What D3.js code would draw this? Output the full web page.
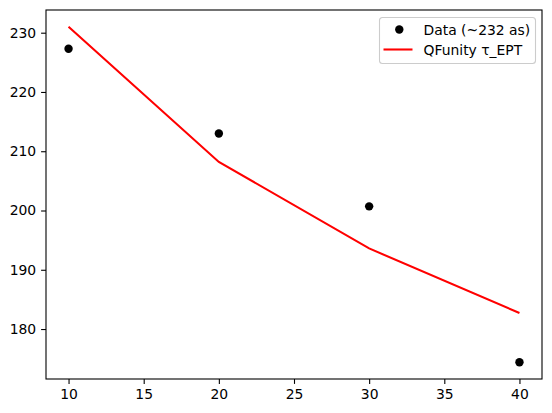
<!DOCTYPE html>
<html>
<head>
<meta charset="utf-8">
<script src="https://cdn.jsdelivr.net/npm/d3@7"></script>
<style>
  body { margin: 0; background: #fff; }
  text { font-family: "DejaVu Sans", sans-serif; }
</style>
</head>
<body>
<div id="chart"></div>
<script>
// values
const xVals = [10, 20, 30, 40];
const dataVals = [227.3, 213.0, 200.7, 174.4];
const modelVals = [231.0, 208.2, 193.6, 182.7];
const xTicks = [10, 15, 20, 25, 30, 35, 40];
const yTicks = [180, 190, 200, 210, 220, 230];
const legendLabels = ['Data (~232 as)', 'QFunity \u03c4_EPT'];

const W = 552, H = 413;
const margin = { top: 10, right: 10, bottom: 34, left: 46 };
const width = W - margin.left - margin.right;
const height = H - margin.top - margin.bottom;

const svg = d3.select('#chart').append('svg')
    .attr('width', W)
    .attr('height', H);

const g = svg.append('g')
    .attr('transform', `translate(${margin.left},${margin.top})`);

// matplotlib-ish 5% padding
const xExt = d3.extent(xVals);
const xPad = (xExt[1] - xExt[0]) * 0.05;
const x = d3.scaleLinear()
    .domain([xExt[0] - xPad, xExt[1] + xPad])
    .range([0, width]);

const yExt = d3.extent(dataVals.concat(modelVals));
const yPad = (yExt[1] - yExt[0]) * 0.05;
const y = d3.scaleLinear()
    .domain([yExt[0] - yPad, yExt[1] + yPad])
    .range([height, 0]);

const fontSize = '13.9px';

// axes
const xAxis = g.append('g')
    .attr('transform', `translate(0,${height})`)
    .call(d3.axisBottom(x).tickValues(xTicks).tickSize(4.9).tickPadding(4.9).tickFormat(d3.format('d')));
const yAxis = g.append('g')
    .call(d3.axisLeft(y).tickValues(yTicks).tickSize(4.9).tickPadding(4.9).tickFormat(d3.format('d')));

[xAxis, yAxis].forEach(a => {
    a.select('.domain').remove();
    a.selectAll('.tick line').attr('stroke', '#000').attr('stroke-width', 1.1);
    a.selectAll('.tick text')
        .attr('fill', '#000')
        .style('font-size', fontSize)
        .style('font-family', '"DejaVu Sans", sans-serif');
});

// frame
g.append('rect')
    .attr('width', width)
    .attr('height', height)
    .attr('fill', 'none')
    .attr('stroke', '#000')
    .attr('stroke-width', 1.1);

// model line
const line = d3.line()
    .x((d, i) => x(xVals[i]))
    .y(d => y(d));

g.append('path')
    .datum(modelVals)
    .attr('d', line)
    .attr('fill', 'none')
    .attr('stroke', '#ff0000')
    .attr('stroke-width', 2.08);

// data points
g.selectAll('.pt')
    .data(dataVals)
    .enter()
    .append('circle')
    .attr('class', 'pt')
    .attr('cx', (d, i) => x(xVals[i]))
    .attr('cy', d => y(d))
    .attr('r', 4.2)
    .attr('fill', '#000');

// legend
const legend = svg.append('g')
    .attr('transform', 'translate(379.5,17.5)');

legend.append('rect')
    .attr('width', 156)
    .attr('height', 46)
    .attr('rx', 3)
    .attr('fill', '#fff')
    .attr('fill-opacity', 0.8)
    .attr('stroke', '#ccc')
    .attr('stroke-width', 1.1);

legend.append('circle')
    .attr('cx', 19.8)
    .attr('cy', 12)
    .attr('r', 4.2)
    .attr('fill', '#000');

legend.append('line')
    .attr('x1', 4)
    .attr('x2', 33)
    .attr('y1', 32)
    .attr('y2', 32)
    .attr('stroke', '#ff0000')
    .attr('stroke-width', 2.08);

legend.selectAll('.lbl')
    .data(legendLabels)
    .enter()
    .append('text')
    .attr('class', 'lbl')
    .attr('x', 44)
    .attr('y', (d, i) => 12 + i * 20)
    .attr('dy', '0.36em')
    .style('font-size', fontSize)
    .attr('fill', '#000')
    .text(d => d);
</script>
</body>
</html>
